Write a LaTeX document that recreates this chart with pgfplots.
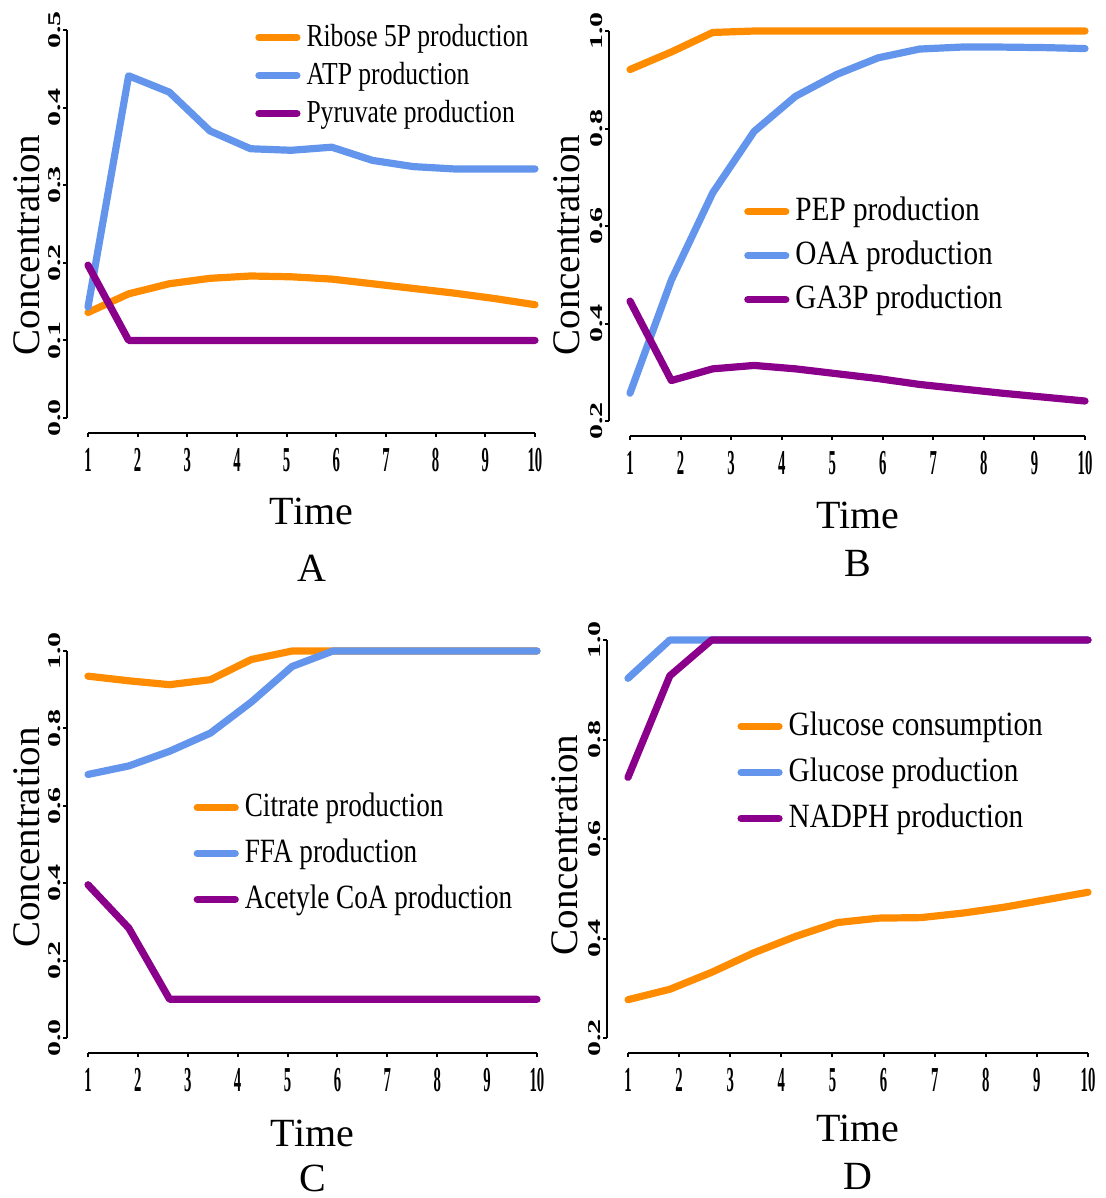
\documentclass[border=0pt]{standalone}
\usepackage{fontspec}
\setmainfont{Liberation Serif}
\newfontfamily\legfont{Liberation Serif}[FakeStretch=0.8]
\newfontfamily\legfontw{Liberation Serif}[FakeStretch=0.86]
\newfontfamily\tickfont{Liberation Serif Bold}[FakeStretch=0.42]
\usepackage{pgfplots}
\usepackage{pgfplotstable}
\pgfplotsset{compat=1.18}

\definecolor{rorange}{HTML}{FF8C00}
\definecolor{rblue}{HTML}{6495ED}
\definecolor{rpurple}{HTML}{8B008B}

% panel A
\pgfplotstableread{
x      ribose atp   pyruvate
1      0.136  0.143 0.197
1.818  0.160  0.441 0.100
2.636  0.173  0.420 0.100
3.455  0.180  0.370 0.100
4.273  0.183  0.347 0.100
5.091  0.182  0.345 0.100
5.909  0.179  0.349 0.100
6.727  0.173  0.332 0.100
7.545  0.167  0.324 0.100
8.364  0.161  0.321 0.100
9.182  0.154  0.321 0.100
10     0.146  0.321 0.100
}\tabA
% panel B
\pgfplotstableread{
x      pep   oaa   gatp
1      0.921 0.257 0.446
1.818  0.957 0.489 0.283
2.636  0.997 0.668 0.307
3.455  1.000 0.794 0.314
4.273  1.000 0.866 0.307
5.091  1.000 0.911 0.297
5.909  1.000 0.945 0.287
6.727  1.000 0.963 0.275
7.545  1.000 0.967 0.266
8.364  1.000 0.967 0.257
9.182  1.000 0.966 0.249
10     1.000 0.964 0.241
}\tabB
% panel C
\pgfplotstableread{
x      citrate ffa   acetyl
1      0.935   0.681 0.396
1.818  0.923   0.703 0.284
2.636  0.913   0.741 0.100
3.455  0.926   0.788 0.100
4.273  0.978   0.868 0.100
5.091  1.000   0.960 0.100
5.909  1.000   1.000 0.100
6.727  1.000   1.000 0.100
7.545  1.000   1.000 0.100
8.364  1.000   1.000 0.100
9.182  1.000   1.000 0.100
10     1.000   1.000 0.100
}\tabC
% panel D
\pgfplotstableread{
x      gcons gprod nadph
1      0.277 0.923 0.724
1.818  0.298 1.000 0.928
2.636  0.332 1.000 1.000
3.455  0.371 1.000 1.000
4.273  0.404 1.000 1.000
5.091  0.432 1.000 1.000
5.909  0.441 1.000 1.000
6.727  0.442 1.000 1.000
7.545  0.451 1.000 1.000
8.364  0.463 1.000 1.000
9.182  0.478 1.000 1.000
10     0.493 1.000 1.000
}\tabD

\pgfplotsset{
  rpanel/.style={
    scale only axis, anchor=south west,
    xmin=1, xmax=10,
    axis lines=left,
    axis line style={-, line width=1pt},
    axis x line shift=7.5pt, axis y line shift=10.5pt,
    tick align=outside, major tick length=2pt,
    tick style={line width=1pt, black},
    xtick={1,...,10},
    xticklabels={1,2,3,4,5,6,7,8,9,10},
    xticklabel style={font=\fontsize{17.5}{17.5}\tickfont, anchor=north, inner sep=1pt, yshift=-4.5pt},
    yticklabel style={font=\fontsize{15}{15}\selectfont\bfseries, rotate=90, yscale=0.6, anchor=south, inner sep=1.5pt},
    clip=false,
    every axis plot/.append style={line width=3.6pt, line join=round, line cap=round},
    legend style={draw=none, fill=none, anchor=north west, font=\fontsize{17}{17}\legfont,
      row sep=6pt, column sep=3pt, cells={anchor=west},
      nodes={inner sep=0pt, text height=13pt, text depth=4pt}},
    legend image code/.code={\draw[##1] (0pt,0pt) -- (19pt,0pt);},
  },
}
\tikzset{
  tlabel/.style={font=\fontsize{20}{20}\selectfont, inner sep=0pt},
  clabel/.style={font=\fontsize{19.5}{19.5}\selectfont, rotate=90, inner sep=0pt},
}

\begin{document}
\begin{tikzpicture}
\useasboundingbox (0,0) rectangle (552.5pt,-599pt);

\begin{axis}[rpanel, at={(44pt,-209pt)}, width=223.5pt, height=194pt,
  ymin=0, ymax=0.5, ytick={0,0.1,0.2,0.3,0.4,0.5},
  yticklabels={0.0,0.1,0.2,0.3,0.4,0.5},
  legend style={at={(0.36,1.036)}, font=\fontsize{16}{16}\legfont, row sep=2pt}]
\addplot[rorange] table[x=x, y=ribose] {\tabA};
\addlegendentry{Ribose 5P production}
\addplot[rblue] table[x=x, y=atp] {\tabA};
\addlegendentry{ATP production}
\addplot[rpurple] table[x=x, y=pyruvate] {\tabA};
\addlegendentry{Pyruvate production}
\node[tlabel] at (axis description cs:0.5,0) [yshift=-46.5pt] {Time};
\node[tlabel] at (axis description cs:0.5,0) [yshift=-75pt] {A};
\node[xshift=-30.5pt, yshift=-10.5pt, clabel] at (axis description cs:0,0.5) {Concentration};
\end{axis}

\begin{axis}[rpanel, at={(315pt,-210.5pt)}, width=227.5pt, height=195pt,
  ymin=0.2, ymax=1, ytick={0.2,0.4,0.6,0.8,1.0},
  yticklabels={0.2,0.4,0.6,0.8,1.0},
  legend style={at={(0.237,0.592)}, font=\fontsize{17}{17}\legfontw, row sep=5pt}]
\addplot[rorange] table[x=x, y=pep] {\tabB};
\addlegendentry{PEP production}
\addplot[rblue] table[x=x, y=oaa] {\tabB};
\addlegendentry{OAA production}
\addplot[rpurple] table[x=x, y=gatp] {\tabB};
\addlegendentry{GA3P production}
\node[tlabel] at (axis description cs:0.5,0) [yshift=-47pt] {Time};
\node[tlabel] at (axis description cs:0.5,0) [yshift=-71pt] {B};
\node[xshift=-31.5pt, yshift=-9.5pt, clabel] at (axis description cs:0,0.5) {Concentration};
\end{axis}

\begin{axis}[rpanel, at={(44pt,-519pt)}, width=224.5pt, height=193.5pt,
  ymin=0, ymax=1, ytick={0,0.2,0.4,0.6,0.8,1.0},
  yticklabels={0.0,0.2,0.4,0.6,0.8,1.0},
  legend style={at={(0.221,0.651)}}]
\addplot[rorange] table[x=x, y=citrate] {\tabC};
\addlegendentry{Citrate production}
\addplot[rblue] table[x=x, y=ffa] {\tabC};
\addlegendentry{FFA production}
\addplot[rpurple] table[x=x, y=acetyl] {\tabC};
\addlegendentry{Acetyle CoA production}
\node[tlabel] at (axis description cs:0.5,0) [yshift=-47.5pt] {Time};
\node[tlabel] at (axis description cs:0.5,0) [yshift=-70pt] {C};
\node[xshift=-30.5pt, yshift=3.5pt, clabel] at (axis description cs:0,0.5) {Concentration};
\end{axis}

\begin{axis}[rpanel, at={(314pt,-519pt)}, width=230pt, height=199pt,
  ymin=0.2, ymax=1, ytick={0.2,0.4,0.6,0.8,1.0},
  yticklabels={0.2,0.4,0.6,0.8,1.0},
  legend style={at={(0.224,0.837)}, font=\fontsize{17}{17}\legfontw}]
\addplot[rorange] table[x=x, y=gcons] {\tabD};
\addlegendentry{Glucose consumption}
\addplot[rblue] table[x=x, y=gprod] {\tabD};
\addlegendentry{Glucose production}
\addplot[rpurple] table[x=x, y=nadph] {\tabD};
\addlegendentry{NADPH production}
\node[tlabel] at (axis description cs:0.5,0) [yshift=-45pt] {Time};
\node[tlabel] at (axis description cs:0.5,0) [yshift=-69pt] {D};
\node[xshift=-31.5pt, yshift=-3pt, clabel] at (axis description cs:0,0.5) {Concentration};
\end{axis}
\end{tikzpicture}
\end{document}
